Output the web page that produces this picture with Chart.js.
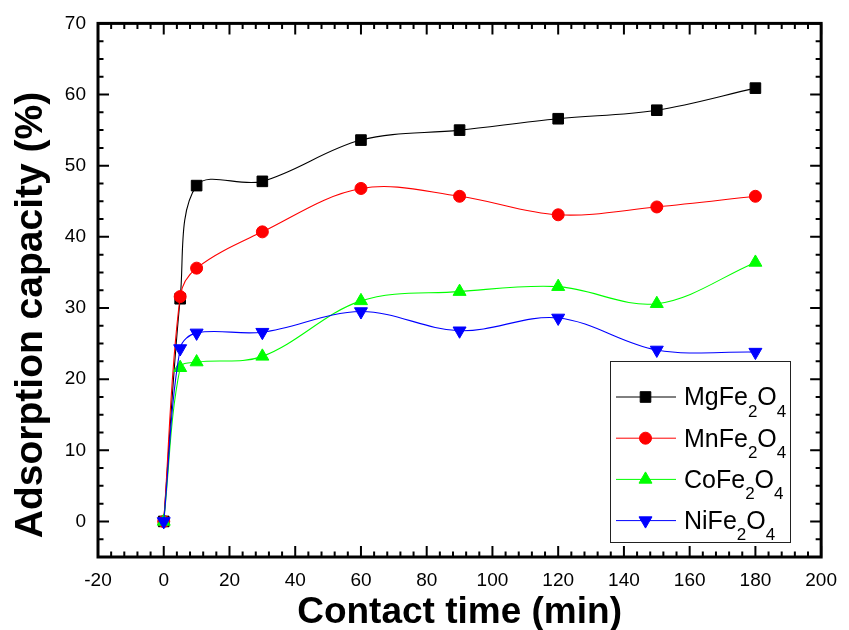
<!DOCTYPE html>
<html><head><meta charset="utf-8">
<script src="https://cdn.jsdelivr.net/npm/chart.js@4/dist/chart.umd.min.js"></script>
<style>html,body{margin:0;padding:0;background:#fff;} #wrap{width:849px;height:630px;position:relative;}</style>
</head><body><div id="wrap"><canvas id="c" width="849" height="630"></canvas></div>
<script>
// ---- data ----
const times = [0, 5, 10, 30, 60, 90, 120, 150, 180];
const mgFe2O4 = [0, 31.3, 47.2, 47.8, 53.6, 55.0, 56.6, 57.8, 60.9];
const mnFe2O4 = [0, 31.6, 35.6, 40.7, 46.8, 45.7, 43.1, 44.2, 45.7];
const coFe2O4 = [0, 21.6, 22.4, 23.2, 31.0, 32.3, 33.0, 30.6, 36.4];
const niFe2O4 = [0, 24.3, 26.5, 26.6, 29.5, 26.8, 28.6, 24.1, 23.8];
const seriesLabels = ['MgFe2O4', 'MnFe2O4', 'CoFe2O4', 'NiFe2O4'];
const xTicks = [-20, 0, 20, 40, 60, 80, 100, 120, 140, 160, 180, 200];
const yTicks = [0, 10, 20, 30, 40, 50, 60, 70];
const xTitle = 'Contact time (min)';
const yTitle = 'Adsorption capacity (%)';

// ---- style ----
const FONT = "'Liberation Sans', Arial, sans-serif";
const colors = ['#000000', '#ff0000', '#00ff00', '#0000ff'];
const styles = [
  {pointStyle: 'rect', radius: 7.5, rotation: 0},
  {pointStyle: 'circle', radius: 6, rotation: 0},
  {pointStyle: 'triangle', radius: 7.5, rotation: 0},
  {pointStyle: 'triangle', radius: 7.5, rotation: 180}
];
const xMinorStep = 4, yMinorStep = 2.5;

const values = [mgFe2O4, mnFe2O4, coFe2O4, niFe2O4];
const datasets = values.map((vals, i) => ({
  label: seriesLabels[i],
  data: times.map((t, j) => ({x: t, y: vals[j]})),
  borderColor: colors[i],
  backgroundColor: colors[i],
  pointBackgroundColor: colors[i],
  pointBorderColor: colors[i],
  borderWidth: 1.1,
  pointBorderWidth: 1,
  pointStyle: styles[i].pointStyle,
  pointRadius: styles[i].radius,
  pointRotation: styles[i].rotation,
  tension: 0.35,
  fill: false,
  order: 4 - i
}));

const framePlugin = {
  id: 'frame',
  afterDraw(chart) {
    const ctx = chart.ctx, a = chart.chartArea;
    const xs = chart.scales.x, ys = chart.scales.y;
    ctx.save();
    ctx.strokeStyle = '#000';
    // ticks
    const drawX = (v, len, w) => {
      const px = xs.getPixelForValue(v);
      ctx.lineWidth = w;
      ctx.beginPath();
      ctx.moveTo(px, a.bottom); ctx.lineTo(px, a.bottom - len);
      ctx.moveTo(px, a.top); ctx.lineTo(px, a.top + len);
      ctx.stroke();
    };
    const drawY = (v, len, w) => {
      const py = ys.getPixelForValue(v);
      ctx.lineWidth = w;
      ctx.beginPath();
      ctx.moveTo(a.left, py); ctx.lineTo(a.left + len, py);
      ctx.moveTo(a.right, py); ctx.lineTo(a.right - len, py);
      ctx.stroke();
    };
    for (let v = xs.min; v <= xs.max + 1e-9; v += xMinorStep) {
      if (!xTicks.includes(Math.round(v * 1000) / 1000)) drawX(v, 5.5, 2);
    }
    xTicks.forEach(v => drawX(v, 11, 2));
    for (let v = ys.min; v <= ys.max + 1e-9; v += yMinorStep) {
      if (!yTicks.includes(Math.round(v * 1000) / 1000)) drawY(v, 5.5, 2);
    }
    yTicks.forEach(v => drawY(v, 11, 2));
    // frame
    ctx.lineWidth = 3;
    ctx.strokeRect(a.left, a.top, a.right - a.left, a.bottom - a.top);

    // axis titles
    ctx.fillStyle = '#000';
    ctx.font = 'bold 37px ' + FONT;
    ctx.textAlign = 'center';
    ctx.textBaseline = 'alphabetic';
    ctx.fillText(xTitle, (a.left + a.right) / 2, 623);
    ctx.save();
    ctx.translate(42, 315);
    ctx.rotate(-Math.PI / 2);
    ctx.font = 'bold 39px ' + FONT;
    ctx.fillText(yTitle, 0, 0);
    ctx.restore();

    // legend
    const bx = 610.5, by = 361.5, bw = 180, bh = 181;
    ctx.fillStyle = '#fff';
    ctx.fillRect(bx, by, bw, bh);
    ctx.lineWidth = 1;
    ctx.strokeStyle = '#222';
    ctx.strokeRect(bx, by, bw, bh);
    chart.data.datasets.forEach((ds, i) => {
      const cy = 397 + i * 41.2;
      ctx.strokeStyle = ds.borderColor;
      ctx.lineWidth = 1;
      ctx.beginPath(); ctx.moveTo(616, cy); ctx.lineTo(676, cy); ctx.stroke();
      ctx.fillStyle = ds.pointBackgroundColor;
      ctx.strokeStyle = ds.pointBorderColor;
      Chart.helpers.drawPoint(ctx, {pointStyle: ds.pointStyle, rotation: ds.pointRotation, radius: ds.pointRadius, borderWidth: 1}, 645.5, cy);
      // label with subscript digits
      let x = 684;
      const base = cy + 8.3;
      ctx.fillStyle = '#000';
      ctx.textAlign = 'left';
      ctx.textBaseline = 'alphabetic';
      for (const ch of ds.label) {
        if (/[0-9]/.test(ch)) {
          ctx.font = '17px ' + FONT;
          ctx.fillText(ch, x, base + 11.5);
        } else {
          ctx.font = '25px ' + FONT;
          ctx.fillText(ch, x, base);
        }
        x += ctx.measureText(ch).width;
      }
    });
    ctx.restore();
  }
};

new Chart(document.getElementById('c'), {
  type: 'line',
  data: {datasets},
  options: {
    responsive: false,
    animation: false,
    devicePixelRatio: 1,
    layout: {padding: {top: 22, right: 20, left: 0, bottom: 0}},
    plugins: {legend: {display: false}, tooltip: {enabled: false}},
    scales: {
      x: {
        type: 'linear', min: -20, max: 200,
        afterBuildTicks: s => { s.ticks = xTicks.map(v => ({value: v})); },
        afterFit: s => { s.height = 73; },
        grid: {display: false, drawTicks: false},
        border: {display: false},
        ticks: {color: '#000', font: {family: FONT, size: 19}, padding: 12, maxRotation: 0, autoSkip: false}
      },
      y: {
        type: 'linear', min: -5, max: 70,
        afterBuildTicks: s => { s.ticks = yTicks.map(v => ({value: v})); },
        afterFit: s => { s.width = 98; },
        grid: {display: false, drawTicks: false},
        border: {display: false},
        ticks: {color: '#000', font: {family: FONT, size: 19}, padding: 12, autoSkip: false}
      }
    }
  },
  plugins: [framePlugin]
});
</script>
</body></html>
